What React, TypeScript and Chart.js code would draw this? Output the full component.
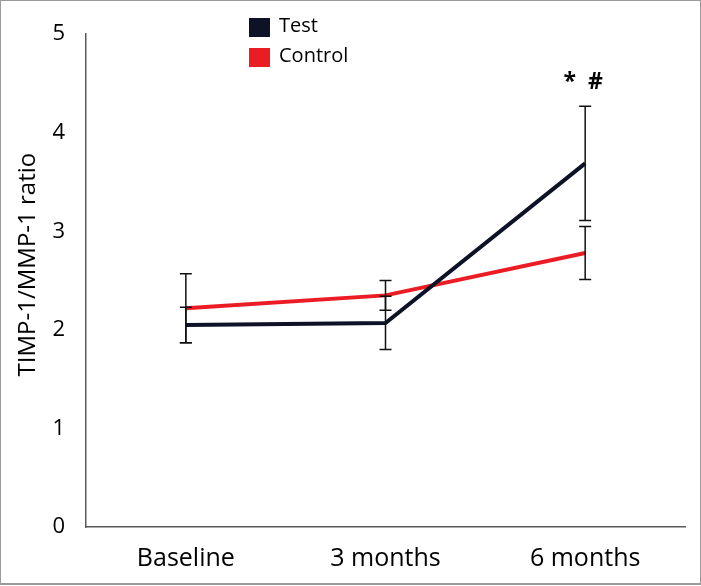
import { useEffect, useRef } from "react";
import { Chart, registerables } from "chart.js";

Chart.register(...registerables);

const categories = ["Baseline", "3 months", "6 months"];
const seriesNames = ["Test", "Control"];
const testValues = [2.05, 2.07, 3.69];
const controlValues = [2.22, 2.35, 2.78];
const testErrors = [0.18, 0.27, 0.58];
const controlErrors = [0.35, 0.15, 0.27];
const yTickMin = 0;
const yTickMax = 5;
const yTickStep = 1;
const yTitle = "TIMP-1/MMP-1 ratio";
const significanceLabel = "*  #";
const significanceIndex = 2;

const testColor = "#0d1226";
const controlColor = "#ec1c24";
const FONT = "'Open Sans', 'DejaVu Sans', sans-serif";

const errorsBySeries = [testErrors, controlErrors];

const extrasPlugin = {
  id: "extras",
  beforeDraw(chart: any) {
    const ctx = chart.ctx;
    ctx.save();
    ctx.fillStyle = "#ffffff";
    ctx.fillRect(0, 0, chart.width, chart.height);
    ctx.restore();
  },
  afterDatasetsDraw(chart: any) {
    const ctx = chart.ctx;
    const xs = chart.scales.x;
    const ys = chart.scales.y;
    const area = chart.chartArea;
    ctx.save();
    ctx.strokeStyle = "#111111";
    ctx.lineWidth = 1.5;
    chart.data.datasets.forEach((ds: any, di: number) => {
      const errs = errorsBySeries[di];
      ds.data.forEach((v: number, i: number) => {
        const x = xs.getPixelForValue(i);
        const yHi = ys.getPixelForValue(v + errs[i]);
        const yLo = ys.getPixelForValue(v - errs[i]);
        ctx.beginPath();
        ctx.moveTo(x, yHi);
        ctx.lineTo(x, yLo);
        ctx.moveTo(x - 6, yHi);
        ctx.lineTo(x + 6, yHi);
        ctx.moveTo(x - 6, yLo);
        ctx.lineTo(x + 6, yLo);
        ctx.stroke();
      });
    });
    // significance marks
    const sx = xs.getPixelForValue(significanceIndex);
    const topVal = testValues[significanceIndex] + testErrors[significanceIndex];
    const sy = ys.getPixelForValue(topVal) - 24;
    ctx.fillStyle = "#000000";
    ctx.font = `bold 23px ${FONT}`;
    ctx.textAlign = "center";
    ctx.textBaseline = "middle";
    ctx.fillText(significanceLabel, sx - 2, sy);

    // legend
    const lx = 249;
    const ly = 18;
    const colors = [testColor, controlColor];
    ctx.font = `20px ${FONT}`;
    ctx.textAlign = "left";
    ctx.textBaseline = "alphabetic";
    seriesNames.forEach((name, k) => {
      const y = ly + k * 30;
      ctx.fillStyle = colors[k];
      ctx.fillRect(lx, y, 21, 19);
      ctx.fillStyle = "#000000";
      ctx.fillText(name, lx + 30, y + 14);
    });

    // y-axis title
    ctx.save();
    ctx.translate(35, (area.top + area.bottom) / 2 - 16);
    ctx.rotate(-Math.PI / 2);
    ctx.font = `24px ${FONT}`;
    ctx.textAlign = "center";
    ctx.textBaseline = "alphabetic";
    ctx.fillStyle = "#000000";
    ctx.fillText(yTitle, 0, 0);
    ctx.restore();

    ctx.restore();
  },
  afterDraw(chart: any) {
    const ctx = chart.ctx;
    ctx.save();
    ctx.strokeStyle = "#9a9a9a";
    ctx.lineWidth = 2;
    ctx.strokeRect(0, 0, chart.width, chart.height - 2);
    ctx.restore();
  },
};

export default function App() {
  const ref = useRef<HTMLCanvasElement | null>(null);

  useEffect(() => {
    document.body.style.margin = "0";
    const canvas = ref.current;
    if (!canvas) return;
    const chart = new Chart(canvas, {
      type: "line",
      data: {
        labels: categories,
        datasets: [
          {
            label: seriesNames[0],
            data: testValues,
            borderColor: testColor,
            backgroundColor: testColor,
            borderWidth: 4,
            pointRadius: 0,
            tension: 0,
          },
          {
            label: seriesNames[1],
            data: controlValues,
            borderColor: controlColor,
            backgroundColor: controlColor,
            borderWidth: 4,
            pointRadius: 0,
            tension: 0,
          },
        ],
      },
      options: {
        responsive: false,
        animation: false,
        layout: { padding: { left: 0, top: 30, right: 16, bottom: 0 } },
        plugins: {
          legend: { display: false },
          tooltip: { enabled: false },
        },
        scales: {
          x: {
            offset: true,
            grid: { display: false, drawTicks: false },
            border: { display: true, color: "#5a5a5a", width: 1.5 },
            ticks: {
              color: "#000000",
              font: { family: FONT, size: 25 },
              padding: 17,
              maxRotation: 0,
            },
            afterFit(scale: any) {
              scale.height = 59;
            },
          },
          y: {
            min: yTickMin,
            max: yTickMax,
            grid: { display: false, drawTicks: false },
            border: { display: true, color: "#5a5a5a", width: 1.5 },
            ticks: {
              stepSize: yTickStep,
              color: "#000000",
              font: { family: FONT, size: 22 },
              padding: 21,
            },
            title: { display: false },
            afterFit(scale: any) {
              scale.width = 86;
            },
          },
        },
      },
      plugins: [extrasPlugin],
    });
    return () => chart.destroy();
  }, []);

  return (
    <div style={{ width: 701, height: 586 }}>
      <canvas ref={ref} width={701} height={586} style={{ display: "block" }} />
    </div>
  );
}
